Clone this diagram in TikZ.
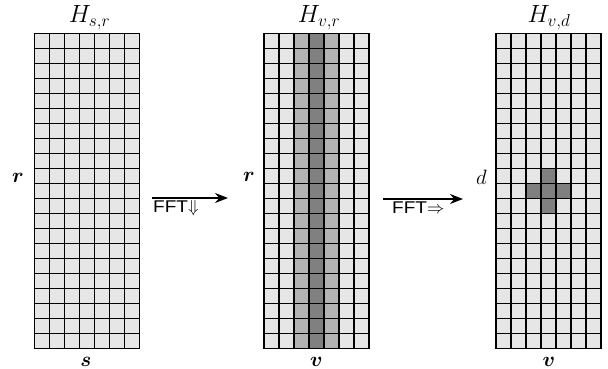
\documentclass[tikz,border=0pt]{standalone}
\usepackage{amsmath,bm}
\usepackage{fontspec}
\newfontfamily\fftfont[FakeStretch=1.12]{Liberation Sans}
\usetikzlibrary{arrows.meta}
\definecolor{celllight}{HTML}{E6E6E6}
\definecolor{cellmid}{HTML}{B3B3B3}
\definecolor{celldark}{HTML}{808080}
\begin{document}
\begin{tikzpicture}[x=1pt,y=-1pt,
  gridbox/.style={draw=none,inner sep=0pt,outer sep=0pt,minimum width=105pt,minimum height=315pt,anchor=north west},
  gridline/.style={line width=1.5pt,black},
  mathlabel/.style={inner sep=0pt,anchor=base,font=\fontsize{22}{26}\selectfont},
  titlelabel/.style={inner sep=0pt,anchor=base,font=\fontsize{24}{28}\selectfont},
  fftarrow/.style={line width=1.4pt,-{Stealth[length=13pt,width=10pt]}},
  fftlabel/.style={inner sep=0pt,anchor=base west,font=\fontsize{17}{20}\selectfont\fftfont}]
\useasboundingbox (0,0) rectangle (608,369);
% grid boxes
\node[gridbox,fill=celllight] (g1) at (34.5,33.3) {};
\node[gridbox,fill=celllight] (g2) at (264,33.3) {};
\node[gridbox,fill=celllight] (g3) at (496,33.3) {};
% shading grid 2
\fill[cellmid] (264+30,33.3) rectangle ++(15,315);
\fill[celldark] (264+45,33.3) rectangle ++(15,315);
\fill[cellmid] (264+60,33.3) rectangle ++(15,315);
% shading grid 3 (cross)
\fill[celldark] (496+45,33.3+135) rectangle ++(15,15);
\fill[celldark] (496+30,33.3+150) rectangle ++(45,15);
\fill[celldark] (496+45,33.3+165) rectangle ++(15,15);
% grid lines
\foreach \gx in {34.5,264,496}{
  \foreach \i in {0,...,7}{\draw[gridline] (\gx+15*\i,33.3) -- ++(0,315);}
  \foreach \j in {0,...,21}{\draw[gridline] (\gx-0.75,33.3+15*\j) -- ++(106.5,0);}
}
% titles
\node[titlelabel] (t1) at (89.5,23) {$H_{s,r}$};
\node[titlelabel] (t2) at (319,23) {$H_{v,r}$};
\node[titlelabel] (t3) at (549,23) {$H_{v,d}$};
% side labels
\node[mathlabel] (l1) at (18,182) {$\bm{r}$};
\node[mathlabel] (l2) at (249,181) {$\bm{r}$};
\node[mathlabel] (l3) at (481.5,184) {$d$};
% bottom labels
\node[mathlabel] (b1) at (86,366) {$\bm{s}$};
\node[mathlabel] (b2) at (316.5,366) {$\bm{v}$};
\node[mathlabel] (b3) at (549,366) {$\bm{v}$};
% arrows
\coordinate (a1s) at (152,198);
\coordinate (a1e) at (228,198);
\coordinate (a2s) at (383,199);
\coordinate (a2e) at (463,199);
\draw[fftarrow] (a1s) -- (a1e);
\draw[fftarrow] (a2s) -- (a2e);
\node[fftlabel] (f1) at (153,212.5) {FFT$\Downarrow$};
\node[fftlabel] (f2) at (392,213.5) {FFT$\Rightarrow$};
\end{tikzpicture}
\end{document}
